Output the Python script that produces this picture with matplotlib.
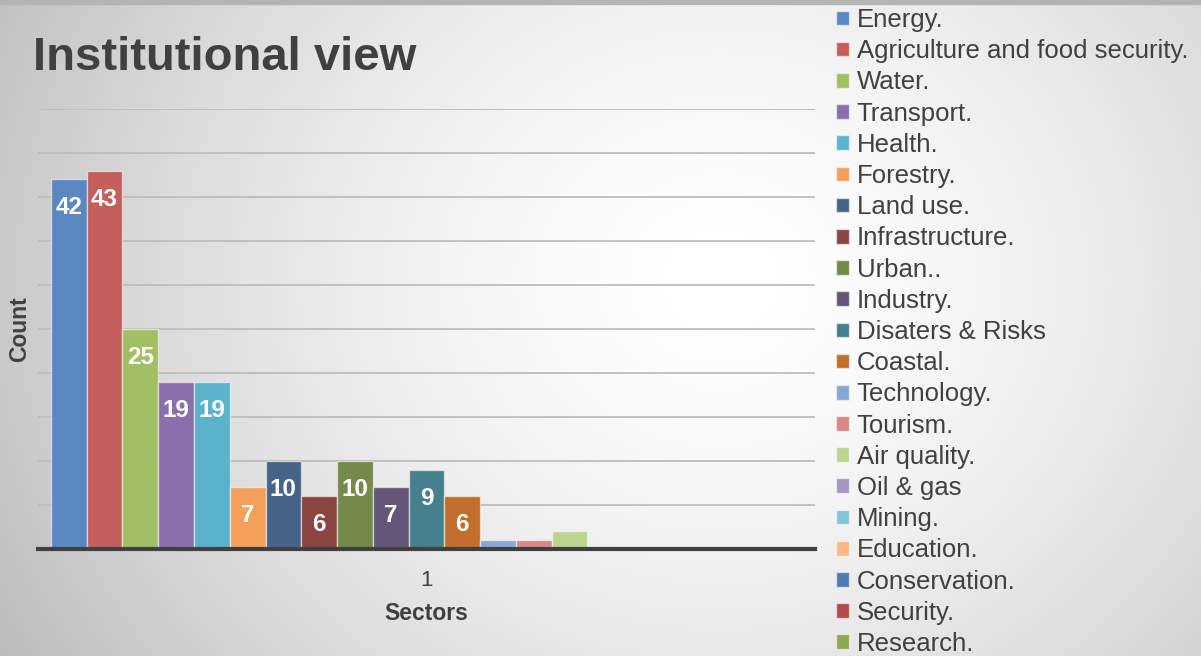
import numpy as np
import matplotlib
matplotlib.use("Agg")
import matplotlib.pyplot as plt
from matplotlib.patches import Rectangle

plt.rcParams['font.family'] = ['Liberation Sans', 'DejaVu Sans']

# data
sectors = ['Energy.', 'Agriculture and food security.', 'Water.', 'Transport.', 'Health.',
           'Forestry.', 'Land use.', 'Infrastructure.', 'Urban..', 'Industry.',
           'Disaters & Risks', 'Coastal.', 'Technology.', 'Tourism.', 'Air quality.',
           'Oil & gas', 'Mining.', 'Education.', 'Conservation.', 'Security.', 'Research.']
counts = [42, 43, 25, 19, 19, 7, 10, 6, 10, 7, 9, 6, 1, 1, 2, 0, 0, 0, 0, 0, 0]
colors = ['#5b88c1', '#c55f5d', '#a2bf64', '#8a70ab', '#5bb3cb', '#f5a05a', '#46648a',
          '#8a4442', '#758a4a', '#655577', '#46808c', '#c06f2c', '#88a8d4', '#d88886',
          '#bcd490', '#a796c3', '#80c6d8', '#f9b885', '#517bb0', '#b04c4a', '#8aa850']
category = '1'

W, H = 1201, 656
fig = plt.figure(figsize=(W / 100, H / 100), dpi=100)

# background: soft radial gradient, like the slide
bg = fig.add_axes([0, 0, 1, 1], zorder=-10)
yy, xx = np.mgrid[0:H, 0:W]
r = np.sqrt(((xx - 720) / 1.0) ** 2 + ((yy - 280) / 0.9) ** 2)
shade = 1 - 0.21 * np.clip(r / 720, 0, 1.3) ** 1.6
bg.imshow(np.dstack([shade] * 3), extent=[0, W, H, 0], aspect='auto')
bg.add_patch(Rectangle((0, 0), W, 4, color='#b4b4b4'))
bg.set_xlim(0, W)
bg.set_ylim(H, 0)
bg.axis('off')

left, right, bottom, top = 38, 815, 549, 109
ax = fig.add_axes([left / W, 1 - bottom / H, (right - left) / W, (bottom - top) / H])
ax.patch.set_alpha(0)

pos = np.arange(len(counts))
bars = ax.bar(pos, counts, width=1.0, color=colors, edgecolor=(1, 1, 1, 0.55),
              linewidth=1.0, label=sectors, zorder=3)

for p, v in zip(pos, counts):
    if v >= 5:
        ax.annotate(str(v), (p, v), xytext=(0, -20.5), textcoords='offset points',
                    ha='center', va='center', color='white', fontsize=17.5,
                    fontweight='bold', zorder=4)

ax.set_xlim(-0.5 - 0.36, len(counts) - 0.5 + 0.36)
ax.set_ylim(0, 50)
ax.set_yticks(np.arange(5, 51, 5))
ax.set_yticklabels([])
ax.grid(axis='y', color='#bdbdbd', linewidth=1.3, zorder=0)
ax.tick_params(axis='y', length=0)
ax.set_xticks([(len(counts) - 1) / 2])
ax.set_xticklabels([category], fontsize=16, color='#404040')
ax.tick_params(axis='x', length=0, pad=15)
for s in ['top', 'right', 'left']:
    ax.spines[s].set_visible(False)
ax.spines['bottom'].set_color('#404040')
ax.spines['bottom'].set_linewidth(3)
ax.spines['bottom'].set_zorder(5)

ax.set_xlabel('Sectors', fontsize=16.5, fontweight='bold', color='#404040', labelpad=8)
fig.text(20 / W, 1 - 329 / H, 'Count', rotation=90, fontsize=16.5, fontweight='bold',
         color='#404040', ha='center', va='center')

fig.text(33 / W, 1 - 70 / H, 'Institutional view', fontsize=34, fontweight='bold',
         color='#404040', ha='left', va='baseline')

leg = fig.legend(handles=list(bars), labels=sectors, loc='upper left',
                 bbox_to_anchor=(836 / W, 1 - 8 / H), frameon=False, fontsize=18.5,
                 handlelength=0.5, handleheight=0.5, handletextpad=0.3,
                 labelspacing=0.28, borderpad=0, borderaxespad=0)
for t in leg.get_texts():
    t.set_color('#404040')

fig.savefig('out.png', dpi=100)
